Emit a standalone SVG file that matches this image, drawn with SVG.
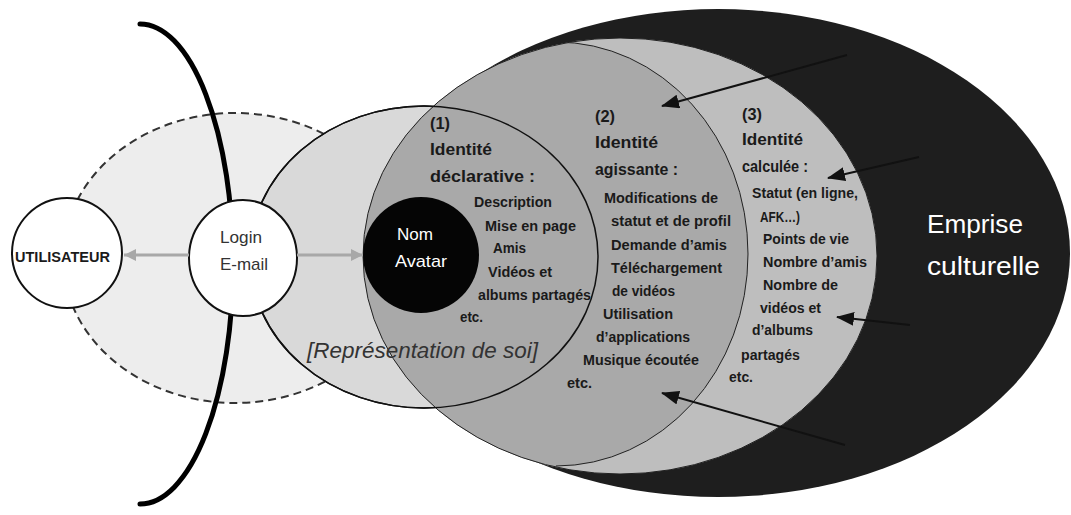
<svg xmlns="http://www.w3.org/2000/svg" width="1071" height="515" viewBox="0 0 1071 515">
<style>
text{font-family:"Liberation Sans",Arial,sans-serif;fill:#1a1a1a}
.h{font-size:17px;font-weight:bold}
.b{font-size:14.5px;font-weight:bold}
.w{fill:#fff}
.ln{fill:none;stroke:#111;stroke-width:2}
</style>
<defs>
<marker id="ah" viewBox="0 0 18 14" refX="17" refY="7" markerWidth="18" markerHeight="14" markerUnits="userSpaceOnUse" orient="auto"><path d="M0,0 L18,7 L0,14 z" fill="#111"/></marker>
<marker id="gh" viewBox="0 0 12 12" refX="12" refY="6" markerWidth="12" markerHeight="12" markerUnits="userSpaceOnUse" orient="auto"><path d="M0,0 L12,6 L0,12 z" fill="#a8a8a8"/></marker>
<clipPath id="c3"><ellipse cx="620" cy="256" rx="257" ry="218"/></clipPath>
</defs>
<rect width="1071" height="515" fill="#fff"/>
<g id="zone-dashed">
<ellipse cx="235" cy="258" rx="172" ry="145" fill="#ededed" stroke="#333" stroke-width="2" stroke-dasharray="8,5"/>
</g>
<g id="emprise">
<ellipse cx="718" cy="253" rx="352" ry="244" fill="#1e1e1e"/>
<text x="927" y="233" class="w" font-size="26.5" textLength="96" lengthAdjust="spacingAndGlyphs">Emprise</text>
<text x="927" y="275" class="w" font-size="26.5" textLength="113" lengthAdjust="spacingAndGlyphs">culturelle</text>
</g>
<g id="identite-calculee">
<ellipse cx="620" cy="256" rx="257" ry="218" fill="#bebebe"/>
</g>
<g id="representation">
<ellipse cx="424" cy="257" rx="174" ry="151" fill="#d9d9d9" stroke="#111" stroke-width="1.5"/>
</g>
<g id="identite-agissante" clip-path="url(#c3)">
<rect x="300" y="0" width="256" height="515" fill="#a9a9a9"/>
<ellipse cx="556" cy="254" rx="192" ry="212" fill="#a9a9a9"/>
<path d="M556,42 A192,212 0 0 1 556,466" fill="none" stroke="#222" stroke-width="1"/>
</g>
<g id="contours">
<ellipse cx="620" cy="256" rx="257" ry="218" fill="none" stroke="#222" stroke-width="1"/>
<ellipse cx="424" cy="257" rx="174" ry="151" fill="none" stroke="#111" stroke-width="1.5"/>
</g>
<g id="nom-avatar">
<circle cx="421" cy="255" r="58" fill="#050505"/>
<text x="397" y="240" class="w" font-size="17" textLength="36" lengthAdjust="spacingAndGlyphs">Nom</text>
<text x="395" y="267" class="w" font-size="17" textLength="52" lengthAdjust="spacingAndGlyphs">Avatar</text>
</g>
<g id="frontiere">
<path d="M140,24 A93,240 0 0 1 140,504" fill="none" stroke="#000" stroke-width="5" stroke-linecap="round"/>
</g>
<g id="login">
<ellipse cx="243" cy="258" rx="54" ry="58" fill="#fff" stroke="#111" stroke-width="2"/>
<text x="220" y="243" font-size="17" style="fill:#333" textLength="42" lengthAdjust="spacingAndGlyphs">Login</text>
<text x="220" y="270" font-size="17" style="fill:#333" textLength="48" lengthAdjust="spacingAndGlyphs">E-mail</text>
</g>
<g id="utilisateur">
<circle cx="67" cy="253" r="55" fill="#fff" stroke="#111" stroke-width="2"/>
<text x="15" y="262" font-size="14" font-weight="bold" textLength="95" lengthAdjust="spacingAndGlyphs">UTILISATEUR</text>
</g>
<g id="connectors">
<line x1="189" y1="255" x2="124" y2="255" stroke="#a8a8a8" stroke-width="3" marker-end="url(#gh)"/>
<line x1="297" y1="255" x2="363" y2="255" stroke="#a8a8a8" stroke-width="3" marker-end="url(#gh)"/>
<line x1="847" y1="55" x2="662" y2="106" class="ln" marker-end="url(#ah)"/>
<line x1="919" y1="157" x2="828" y2="178" class="ln" marker-end="url(#ah)"/>
<line x1="910" y1="325" x2="837" y2="317" class="ln" marker-end="url(#ah)"/>
<line x1="845" y1="445" x2="662" y2="393" class="ln" marker-end="url(#ah)"/>
</g>
<g id="texte-declarative">
<text x="430" y="129" class="h" textLength="20" lengthAdjust="spacingAndGlyphs">(1)</text>
<text x="430" y="155" class="h" textLength="62" lengthAdjust="spacingAndGlyphs">Identité</text>
<text x="430" y="182" class="h" textLength="105" lengthAdjust="spacingAndGlyphs">déclarative :</text>
<text x="474" y="207" class="b" textLength="78" lengthAdjust="spacingAndGlyphs">Description</text>
<text x="485" y="231" class="b" textLength="91" lengthAdjust="spacingAndGlyphs">Mise en page</text>
<text x="493" y="253" class="b" textLength="33" lengthAdjust="spacingAndGlyphs">Amis</text>
<text x="488" y="277" class="b" textLength="64" lengthAdjust="spacingAndGlyphs">Vidéos et</text>
<text x="478" y="300" class="b" textLength="113" lengthAdjust="spacingAndGlyphs">albums partagés</text>
<text x="460" y="322" class="b" textLength="23" lengthAdjust="spacingAndGlyphs">etc.</text>
</g>
<g id="texte-agissante">
<text x="595" y="122" class="h" textLength="20" lengthAdjust="spacingAndGlyphs">(2)</text>
<text x="595" y="148" class="h" textLength="63" lengthAdjust="spacingAndGlyphs">Identité</text>
<text x="595" y="175" class="h" textLength="83" lengthAdjust="spacingAndGlyphs">agissante :</text>
<text x="604" y="203" class="b" textLength="114" lengthAdjust="spacingAndGlyphs">Modifications de</text>
<text x="611" y="226" class="b" textLength="120" lengthAdjust="spacingAndGlyphs">statut et de profil</text>
<text x="611" y="250" class="b" textLength="116" lengthAdjust="spacingAndGlyphs">Demande d’amis</text>
<text x="611" y="273" class="b" textLength="111" lengthAdjust="spacingAndGlyphs">Téléchargement</text>
<text x="612" y="296" class="b" textLength="63" lengthAdjust="spacingAndGlyphs">de vidéos</text>
<text x="603" y="319" class="b" textLength="70" lengthAdjust="spacingAndGlyphs">Utilisation</text>
<text x="596" y="342" class="b" textLength="94" lengthAdjust="spacingAndGlyphs">d’applications</text>
<text x="583" y="365" class="b" textLength="116" lengthAdjust="spacingAndGlyphs">Musique écoutée</text>
<text x="567" y="388" class="b" textLength="25" lengthAdjust="spacingAndGlyphs">etc.</text>
</g>
<g id="texte-calculee">
<text x="742" y="120" class="h" textLength="20" lengthAdjust="spacingAndGlyphs">(3)</text>
<text x="742" y="145" class="h" textLength="61" lengthAdjust="spacingAndGlyphs">Identité</text>
<text x="742" y="172" class="h" textLength="66" lengthAdjust="spacingAndGlyphs">calculée :</text>
<text x="752" y="198" class="b" textLength="106" lengthAdjust="spacingAndGlyphs">Statut (en ligne,</text>
<text x="760" y="222" class="b" textLength="40" lengthAdjust="spacingAndGlyphs">AFK…)</text>
<text x="763" y="244" class="b" textLength="86" lengthAdjust="spacingAndGlyphs">Points de vie</text>
<text x="763" y="267" class="b" textLength="104" lengthAdjust="spacingAndGlyphs">Nombre d’amis</text>
<text x="763" y="290" class="b" textLength="75" lengthAdjust="spacingAndGlyphs">Nombre de</text>
<text x="760" y="313" class="b" textLength="61" lengthAdjust="spacingAndGlyphs">vidéos et</text>
<text x="752" y="335" class="b" textLength="61" lengthAdjust="spacingAndGlyphs">d’albums</text>
<text x="741" y="360" class="b" textLength="59" lengthAdjust="spacingAndGlyphs">partagés</text>
<text x="729" y="382" class="b" textLength="24" lengthAdjust="spacingAndGlyphs">etc.</text>
</g>
<g id="texte-representation">
<text x="307" y="358" font-size="22" font-style="italic" style="fill:#333" textLength="231" lengthAdjust="spacingAndGlyphs">[Représentation de soi]</text>
</g>
</svg>
